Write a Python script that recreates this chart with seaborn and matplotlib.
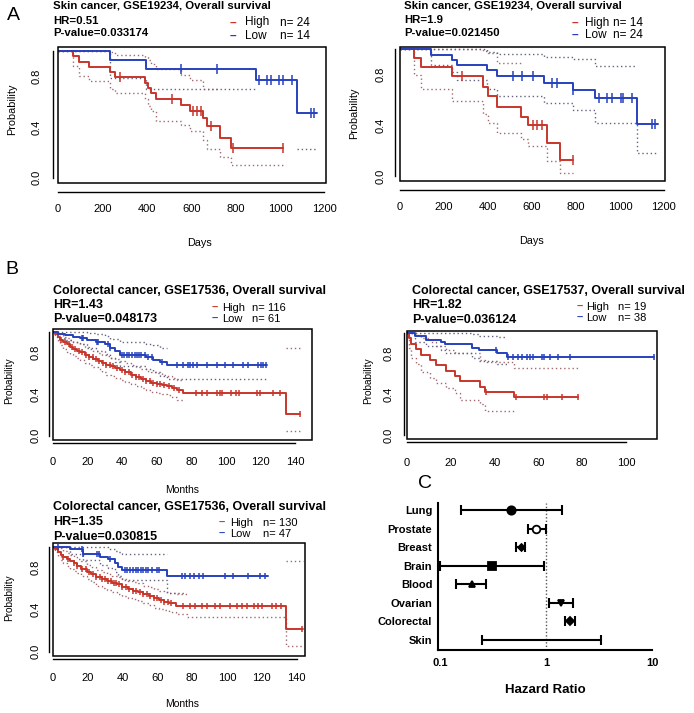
import numpy as np
import pandas as pd
import matplotlib
matplotlib.use("Agg")
import matplotlib.pyplot as plt
import seaborn as sns
from matplotlib.patches import Rectangle
from matplotlib.ticker import LogLocator, NullFormatter

nan = np.nan

# ==========================================
# DATA: Kaplan-Meier curves
# (t = step times, s = survival, lo/hi = dotted confidence lines)
# ==========================================
# --- A, left: skin cancer GSE19234, HR=0.51 (days) ---
a1_high_t = [0, 68, 94, 140, 233, 256, 390, 405, 420, 440, 553, 594, 654, 669, 729, 777]
a1_high_s = [1.0, 0.958, 0.917, 0.875, 0.833, 0.792, 0.75, 0.708, 0.667, 0.625, 0.574, 0.527, 0.469, 0.408, 0.316, 0.237]
a1_high_lo = [1.0, 0.88, 0.80, 0.76, 0.70, 0.67, 0.62, 0.57, 0.53, 0.45, 0.42, 0.37, 0.30, 0.23, 0.16, 0.10]
a1_high_hi = [1.0, 1.0, 1.0, 1.0, 0.99, 0.97, 0.95, 0.93, 0.90, 0.86, 0.81, 0.77, 0.70, 0.70, nan, nan]
a1_high_cens = [278, 512, 609, 624, 644, 687, 789, 1012]
a1_high_end = 1012
a1_low_t = [0, 233, 396, 892, 1075]
a1_low_s = [1.0, 0.929, 0.857, 0.771, 0.514]
a1_low_lo = [1.0, 0.79, 0.70, nan, 0.23]
a1_low_hi = [nan, nan, nan, nan, nan]
a1_low_cens = [556, 717, 905, 940, 960, 997, 1015, 1053, 1140, 1155]
a1_low_end = 1166

# --- A, right: skin cancer GSE19234, HR=1.9 (days) ---
a2_high_t = [0, 64, 94, 235, 379, 402, 439, 548, 583, 667, 727]
a2_high_s = [1.0, 0.929, 0.857, 0.786, 0.70, 0.63, 0.547, 0.468, 0.403, 0.258, 0.126]
a2_high_lo = [1.0, 0.80, 0.69, 0.59, 0.49, 0.42, 0.34, 0.29, 0.24, 0.12, 0.026]
a2_high_hi = [1.0, 1.0, 1.0, 1.0, 0.99, 0.97, 0.89, nan, nan, nan, nan]
a2_high_cens = [280, 606, 621, 644, 788]
a2_high_end = 788
a2_low_t = [0, 139, 235, 258, 394, 439, 655, 785, 886, 1076]
a2_low_s = [1.0, 0.958, 0.917, 0.875, 0.833, 0.792, 0.737, 0.68, 0.618, 0.41]
a2_low_lo = [1.0, 0.88, 0.82, 0.76, 0.69, 0.63, 0.58, 0.52, 0.42, 0.18]
a2_low_hi = [1.0, 1.0, 1.0, 1.0, 0.98, 0.965, 0.94, 0.92, 0.87, nan]
a2_low_cens = [512, 553, 606, 689, 712, 785, 905, 942, 962, 1005, 1015, 1053, 1147, 1159]
a2_low_end = 1171

# --- B, top left: colorectal GSE17536, HR=1.43 (months) ---
b1_high_t = [0, 1.5, 3, 4.5, 6, 8, 10, 12, 14, 16, 18.5, 21, 23.5, 26, 28.5, 31, 33.5, 36, 39, 42,
             45, 48, 51, 54, 57, 60, 63, 66, 69, 72, 75.5, 134.5]
b1_high_s = [1.0, 0.98, 0.95, 0.92, 0.90, 0.88, 0.86, 0.84, 0.82, 0.81, 0.78, 0.76, 0.74, 0.72, 0.70, 0.68,
             0.67, 0.65, 0.63, 0.61, 0.59, 0.57, 0.55, 0.53, 0.51, 0.50, 0.49, 0.48, 0.46, 0.44, 0.41, 0.21]
b1_high_lo = [1.0, 0.95, 0.91, 0.87, 0.84, 0.81, 0.79, 0.77, 0.75, 0.73, 0.70, 0.68, 0.66, 0.64, 0.61, 0.59,
              0.58, 0.56, 0.54, 0.52, 0.50, 0.48, 0.46, 0.44, 0.42, 0.41, 0.40, 0.39, 0.37, 0.34, nan, 0.05]
b1_high_hi = [1.0, 1.0, 0.99, 0.97, 0.95, 0.94, 0.92, 0.90, 0.89, 0.88, 0.86, 0.84, 0.82, 0.80, 0.78, 0.77,
              0.75, 0.74, 0.72, 0.70, 0.68, 0.66, 0.64, 0.62, 0.61, 0.60, 0.59, 0.58, 0.56, 0.54, nan, 0.85]
b1_high_cens = [5, 7, 9.5, 11, 13, 15, 17, 19, 21, 23, 25, 27, 29, 31, 33, 35, 37, 40, 42, 44, 46, 48, 50,
                52, 54, 56, 58, 60, 62, 64, 67, 70, 73, 83, 86, 89, 95, 96.5, 98, 103, 106, 107.5, 117.7,
                119.6, 127.3, 131.1, 142.7]
b1_high_end = 143
b1_low_t = [0, 3, 7, 12, 16, 20, 25, 30, 33, 36, 39, 54, 58, 62, 66]
b1_low_s = [1.0, 0.98, 0.97, 0.955, 0.94, 0.92, 0.90, 0.88, 0.85, 0.82, 0.78, 0.755, 0.73, 0.71, 0.68]
b1_low_lo = [1.0, 0.94, 0.92, 0.90, 0.88, 0.85, 0.82, 0.79, 0.75, 0.71, 0.67, 0.64, 0.61, 0.58, 0.55]
b1_low_hi = [1.0, 1.0, 1.0, 1.0, 1.0, 0.99, 0.98, 0.96, 0.93, 0.93, 0.90, 0.88, 0.87, 0.85, nan]
b1_low_cens = [16.7, 17.6, 25.4, 26.3, 32, 33, 39.8, 41.1, 42.7, 44.2, 45.6, 47.5, 48.8, 50, 50.8, 53.3,
               55.2, 57.1, 62.9, 71.5, 75.4, 78.3, 79.2, 80.8, 83.1, 88.8, 94.6, 99.4, 104.2, 110, 112.9,
               118.7, 120, 121.6, 123]
b1_low_end = 123.5

# --- B, top right: colorectal GSE17537, HR=1.82 (months) ---
b2_high_t = [0, 0.8, 2, 4, 6.6, 10.4, 13.4, 18, 21.8, 24.1, 33.3, 35.6, 49]
b2_high_s = [1.0, 0.947, 0.895, 0.842, 0.789, 0.737, 0.684, 0.632, 0.579, 0.526, 0.474, 0.421, 0.368]
b2_high_lo = [1.0, 0.85, 0.76, 0.70, 0.62, 0.56, 0.51, 0.46, 0.41, 0.34, 0.30, 0.24, nan]
b2_high_hi = [1.0, 1.0, 1.0, 0.98, 0.95, 0.91, 0.87, 0.83, 0.80, 0.80, 0.74, 0.72, 0.66]
b2_high_cens = [36.3, 50, 62.6, 64.1, 70.7, 78.3]
b2_high_end = 78.3
b2_low_t = [0, 3.8, 8.9, 15.7, 17.3, 29.5, 33, 41, 45.5]
b2_low_s = [1.0, 0.968, 0.936, 0.91, 0.888, 0.85, 0.83, 0.80, 0.763]
b2_low_lo = [1.0, 0.91, 0.87, 0.83, 0.80, 0.76, 0.73, 0.70, nan]
b2_low_hi = [1.0, 1.0, 1.0, 1.0, 1.0, 0.99, 0.97, 0.96, nan]
b2_low_cens = [40.6, 46.3, 48.5, 50.8, 52.4, 54.7, 56.2, 57.7, 61.5, 62.7, 65.3, 69.2, 74.5, 112.7]
b2_low_end = 112.7

# --- B, bottom left: colorectal GSE17536, HR=1.35 (months) ---
b3_high_t = [0, 1.5, 3, 4.5, 6, 8, 10, 12, 14, 16.5, 19.5, 22, 25, 28, 31, 34, 37, 40, 43, 46, 49, 52,
             55, 58, 61, 64, 67, 70.5, 77, 134]
b3_high_s = [1.0, 0.98, 0.95, 0.92, 0.90, 0.88, 0.86, 0.84, 0.82, 0.79, 0.76, 0.74, 0.71, 0.69, 0.67, 0.65,
             0.64, 0.62, 0.60, 0.58, 0.57, 0.55, 0.53, 0.51, 0.49, 0.475, 0.46, 0.435, 0.435, 0.213]
b3_high_lo = [1.0, 0.95, 0.91, 0.87, 0.84, 0.82, 0.79, 0.77, 0.75, 0.72, 0.69, 0.66, 0.63, 0.61, 0.59, 0.57,
              0.55, 0.53, 0.51, 0.50, 0.48, 0.46, 0.44, 0.42, 0.41, 0.40, 0.38, 0.36, 0.33, 0.05]
b3_high_hi = [1.0, 1.0, 1.0, 0.98, 0.96, 0.94, 0.92, 0.90, 0.88, 0.86, 0.83, 0.81, 0.78, 0.76, 0.74, 0.72,
              0.71, 0.69, 0.67, 0.66, 0.65, 0.63, 0.62, 0.60, 0.58, 0.57, 0.56, 0.55, nan, 0.86]
b3_high_cens = [6, 9, 12, 14, 17, 19, 21, 23, 25, 27, 28.5, 30, 32, 33.5, 35, 36.5, 38, 40, 42, 44, 46, 48,
                50, 52, 54, 56, 58, 60, 62, 64, 66, 68, 75, 78.8, 81.7, 85.5, 88.3, 93.1, 96, 101.7, 105.5,
                108.4, 111.3, 115.5, 118, 119.9, 125.6, 128.1, 130.8, 143]
b3_high_end = 143.8
b3_low_t = [0, 10, 17.6, 27.1, 31.9, 35.7, 37.6, 39.6, 65.4, 76]
b3_low_s = [1.0, 0.975, 0.935, 0.905, 0.88, 0.845, 0.81, 0.78, 0.724, 0.724]
b3_low_lo = [1.0, 0.93, 0.87, 0.83, 0.80, 0.76, 0.72, 0.68, 0.56, nan]
b3_low_hi = [1.0, 1.0, 1.0, 1.0, 0.98, 0.96, 0.95, 0.93, nan, nan]
b3_low_cens = [3, 16.6, 17.6, 25.2, 26.8, 32.9, 41.5, 42.8, 44.4, 46.3, 47.8, 49.1, 50.5, 52, 53.5, 54.9,
               56.8, 59.7, 61.2, 74, 75.9, 78.8, 81.1, 84.1, 86.4, 98.8, 103.6, 112.2, 118.9, 121.8]
b3_low_end = 123.7

# --- C: forest plot of hazard ratios ---
cancers = ["Lung", "Prostate", "Breast", "Brain", "Blood", "Ovarian", "Colorectal", "Skin"]
hr_point = [0.47, 0.81, 0.58, 0.31, 0.20, 1.39, 1.69, nan]
hr_low = [0.157, 0.67, 0.52, 0.10, 0.14, 1.07, 1.50, 0.25]
hr_high = [1.43, 1.0, 0.64, 0.955, 0.27, 1.79, 1.86, 3.33]

prob_ticks = [0, 0.2, 0.4, 0.6, 0.8, 1.0]
prob_labels = ["0.0", "", "0.4", "", "0.8", ""]
days_ticks = [0, 200, 400, 600, 800, 1000, 1200]
months_ticks_140 = [0, 20, 40, 60, 80, 100, 120, 140]
months_ticks_100 = [0, 20, 40, 60, 80, 100]

# ==========================================
# STYLE
# ==========================================
sns.set_theme(style="white", rc={"text.color": "black", "axes.edgecolor": "black",
                                 "xtick.color": "black", "ytick.color": "black"})
plt.rcParams['font.family'] = ['Liberation Sans', 'DejaVu Sans']

RED = "#c8352b"
BLUE = "#2741bd"
RED_CI = "#a06a70"
BLUE_CI = "#66627e"

W, H = 694, 713
fig = plt.figure(figsize=(W / 100, H / 100), dpi=100)


def px_axes(left, top, right, bottom):
    # axes placed by pixel box (origin top-left)
    return fig.add_axes([left / W, 1 - bottom / H, (right - left) / W, (bottom - top) / H])


def fig_text(x, y, s, **kw):
    kw.setdefault("va", "center")
    return fig.text(x / W, 1 - y / H, s, **kw)


def step_at(t, s, x):
    idx = np.searchsorted(t, x, side="right") - 1
    return np.asarray(s)[idx]


def draw_group(ax, t, s, lo, hi, cens, end, color, ci_color, mark_size):
    ext_t = list(t) + [end]
    for band in (lo, hi):
        ax.plot(ext_t, list(band) + [band[-1]], drawstyle="steps-post", color=ci_color,
                linewidth=1.0, linestyle=(0, (1, 2)), zorder=1)
    curve = pd.DataFrame({"time": ext_t, "surv": list(s) + [s[-1]]})
    sns.lineplot(data=curve, x="time", y="surv", drawstyle="steps-post", estimator=None,
                 sort=False, color=color, linewidth=1.4, ax=ax, zorder=2)
    marks = pd.DataFrame({"time": cens, "surv": step_at(t, s, cens)})
    sns.scatterplot(data=marks, x="time", y="surv", marker="|", s=mark_size, color=color,
                    linewidth=1.1, ax=ax, zorder=3, legend=False)


def style_km(ax, xlim, ylim, xticks, gapx, gapy, padx, pady, fs):
    ax.set_xlim(*xlim)
    ax.set_ylim(*ylim)
    ax.set_xlabel("")
    ax.set_ylabel("")
    ax.add_patch(Rectangle((0, 0), 1, 1, transform=ax.transAxes, fill=False, ec="black",
                           lw=1.1, clip_on=False, zorder=5))
    ax.spines["top"].set_visible(False)
    ax.spines["right"].set_visible(False)
    for side, gap in (("bottom", gapx), ("left", gapy)):
        ax.spines[side].set_position(("outward", gap * 0.72))
        ax.spines[side].set_color("black")
        ax.spines[side].set_linewidth(1.0)
    ax.spines["bottom"].set_bounds(xticks[0], xticks[-1])
    ax.spines["left"].set_bounds(0, 1)
    ax.set_xticks(xticks)
    ax.set_xticklabels([str(v) for v in xticks], fontsize=fs)
    ax.set_yticks(prob_ticks)
    ax.set_yticklabels(prob_labels, fontsize=fs, rotation=90, va="center")
    ax.tick_params(axis="x", direction="in", length=gapx * 0.72, width=1.0, pad=padx)
    ax.tick_params(axis="y", direction="in", length=gapy * 0.72, width=1.0, pad=pady)


def header(x, y_title, y_hr, y_p, title, hr, pval, fs, leg_x, leg_rows, n_high, n_low, leg_fs):
    fig_text(x, y_title, title, fontsize=fs, fontweight="bold")
    fig_text(x, y_hr, hr, fontsize=fs, fontweight="bold")
    fig_text(x, y_p, pval, fontsize=fs, fontweight="bold")
    dash_x, name_x, n_x = leg_x
    for y, name, n, col in ((leg_rows[0], "High", n_high, RED), (leg_rows[1], "Low", n_low, BLUE)):
        fig_text(dash_x, y, "\u2013", fontsize=leg_fs, color=col, fontweight="bold")
        fig_text(name_x, y, name, fontsize=leg_fs)
        fig_text(n_x, y, f"n= {n}", fontsize=leg_fs)


# ==========================================
# PANEL A
# ==========================================
ax = px_axes(58, 46.6, 326, 182.8)
draw_group(ax, a1_high_t, a1_high_s, a1_high_lo, a1_high_hi, a1_high_cens, a1_high_end, RED, RED_CI, 55)
draw_group(ax, a1_low_t, a1_low_s, a1_low_lo, a1_low_hi, a1_low_cens, a1_low_end, BLUE, BLUE_CI, 55)
style_km(ax, (0, 1207), (-0.04, 1.035), days_ticks, 9, 5, 9, 8.5, 8)
header(53, 6, 20.5, 32.5, "Skin cancer, GSE19234, Overall survival", "HR=0.51", "P-value=0.033174",
       8.2, (230, 245, 280), (22.5, 36), 24, 14, 8.5)
fig_text(12, 109, "Probability", fontsize=7.8, rotation=90, ha="center")
fig_text(200, 243, "Days", fontsize=7.8, ha="center")

ax = px_axes(400, 46.8, 665, 181.1)
draw_group(ax, a2_high_t, a2_high_s, a2_high_lo, a2_high_hi, a2_high_cens, a2_high_end, RED, RED_CI, 55)
draw_group(ax, a2_low_t, a2_low_s, a2_low_lo, a2_low_hi, a2_low_cens, a2_low_end, BLUE, BLUE_CI, 55)
style_km(ax, (0, 1205), (-0.04, 1.02), days_ticks, 9, 5, 8.5, 6.5, 8)
header(404, 6, 20, 33, "Skin cancer, GSE19234, Overall survival", "HR=1.9", "P-value=0.021450",
       8.2, (572, 585, 613), (23, 35), 14, 24, 8.5)
fig_text(354, 113, "Probability", fontsize=7.8, rotation=90, ha="center")
fig_text(532, 241, "Days", fontsize=7.8, ha="center")

# ==========================================
# PANEL B
# ==========================================
ax = px_axes(52.7, 329, 311.7, 440)
draw_group(ax, b1_high_t, b1_high_s, b1_high_lo, b1_high_hi, b1_high_cens, b1_high_end, RED, RED_CI, 22)
draw_group(ax, b1_low_t, b1_low_s, b1_low_lo, b1_low_hi, b1_low_cens, b1_low_end, BLUE, BLUE_CI, 22)
style_km(ax, (0, 149.5), (-0.0415, 1.029), months_ticks_140, 3.3, 3.3, 10, 6, 8)
header(53, 291, 305, 319.5, "Colorectal cancer, GSE17536, Overall survival", "HR=1.43", "P-value=0.048173",
       9, (212, 222, 252), (307.7, 319), 116, 61, 8)
fig_text(9, 381, "Probability", fontsize=7.2, rotation=90, ha="center")
fig_text(182, 490, "Months", fontsize=7.5, ha="center")

ax = px_axes(407, 331, 657, 439)
draw_group(ax, b2_high_t, b2_high_s, b2_high_lo, b2_high_hi, b2_high_cens, b2_high_end, RED, RED_CI, 22)
draw_group(ax, b2_low_t, b2_low_s, b2_low_lo, b2_low_hi, b2_low_cens, b2_low_end, BLUE, BLUE_CI, 22)
style_km(ax, (0, 114.2), (-0.039, 1.02), months_ticks_100, 3.3, 3.3, 11, 7.5, 8)
header(412, 291, 305.5, 320, "Colorectal cancer, GSE17537, Overall survival", "HR=1.82", "P-value=0.036124",
       9, (577, 586, 618), (306.7, 317.7), 19, 38, 8)
fig_text(368, 381, "Probability", fontsize=7.2, rotation=90, ha="center")

ax = px_axes(52.7, 543, 305, 656)
draw_group(ax, b3_high_t, b3_high_s, b3_high_lo, b3_high_hi, b3_high_cens, b3_high_end, RED, RED_CI, 22)
draw_group(ax, b3_low_t, b3_low_s, b3_low_lo, b3_low_hi, b3_low_cens, b3_low_end, BLUE, BLUE_CI, 22)
style_km(ax, (0, 144.75), (-0.041, 1.035), months_ticks_140, 3.3, 3.3, 10, 6, 8)
header(53, 507, 522, 536.5, "Colorectal cancer, GSE17536, Overall survival", "HR=1.35", "P-value=0.030815",
       9, (219, 230, 263), (523, 534), 130, 47, 8)
fig_text(9, 598, "Probability", fontsize=7.2, rotation=90, ha="center")
fig_text(182, 704, "Months", fontsize=7.5, ha="center")

# ==========================================
# PANEL C: forest plot
# ==========================================
axc = px_axes(438, 503, 652.2, 650)
ypos = np.arange(len(cancers))
axc.axvline(1, color="#555555", linewidth=1.0, linestyle=(0, (1, 1.5)), zorder=0)
axc.hlines(ypos, hr_low, hr_high, color="black", linewidth=1.5)
axc.vlines(hr_low, ypos - 0.27, ypos + 0.27, color="black", linewidth=1.5)
axc.vlines(hr_high, ypos - 0.27, ypos + 0.27, color="black", linewidth=1.5)
marker_style = ["o", "o", "D", "s", "^", "v", "D", ""]
marker_face = ["black", "white", "black", "black", "black", "black", "black", "black"]
marker_size = [6, 5.5, 3.5, 6, 4, 5, 4.5, 0]
for y, v, m, fc, ms in zip(ypos, hr_point, marker_style, marker_face, marker_size):
    if np.isnan(v):
        continue
    axc.plot([v], [y], marker=m, mfc=fc, mec="black", ms=ms, mew=1.3, linestyle="none", zorder=3)
axc.set_xscale("log")
axc.set_xlim(0.0957, 10.05)
axc.set_ylim(7.54, -0.38)
axc.set_xticks([0.1, 1, 10])
axc.set_xticklabels(["0.1", "1", "10"], fontsize=8, fontweight="bold")
axc.xaxis.set_minor_locator(LogLocator(base=10, subs=np.arange(2, 10)))
axc.xaxis.set_minor_formatter(NullFormatter())
axc.set_yticks(ypos)
axc.set_yticklabels(cancers, fontsize=8, fontweight="bold")
axc.spines["top"].set_visible(False)
axc.spines["right"].set_visible(False)
for side in ("left", "bottom"):
    axc.spines[side].set_linewidth(1.5)
    axc.spines[side].set_color("black")
axc.tick_params(axis="x", which="major", direction="out", length=5, width=1.5, pad=1)
axc.tick_params(axis="x", which="minor", direction="out", length=3, width=1.0)
axc.tick_params(axis="y", direction="out", length=3.6, width=1.3, pad=0.5)
fig_text(545, 690, "Hazard Ratio", fontsize=9.5, fontweight="bold", ha="center")

# panel letters
fig_text(13, 16, "A", fontsize=14, ha="center")
fig_text(12, 270, "B", fontsize=14, ha="center")
fig_text(425, 484, "C", fontsize=14, ha="center")

fig.savefig("out.png", dpi=100)
